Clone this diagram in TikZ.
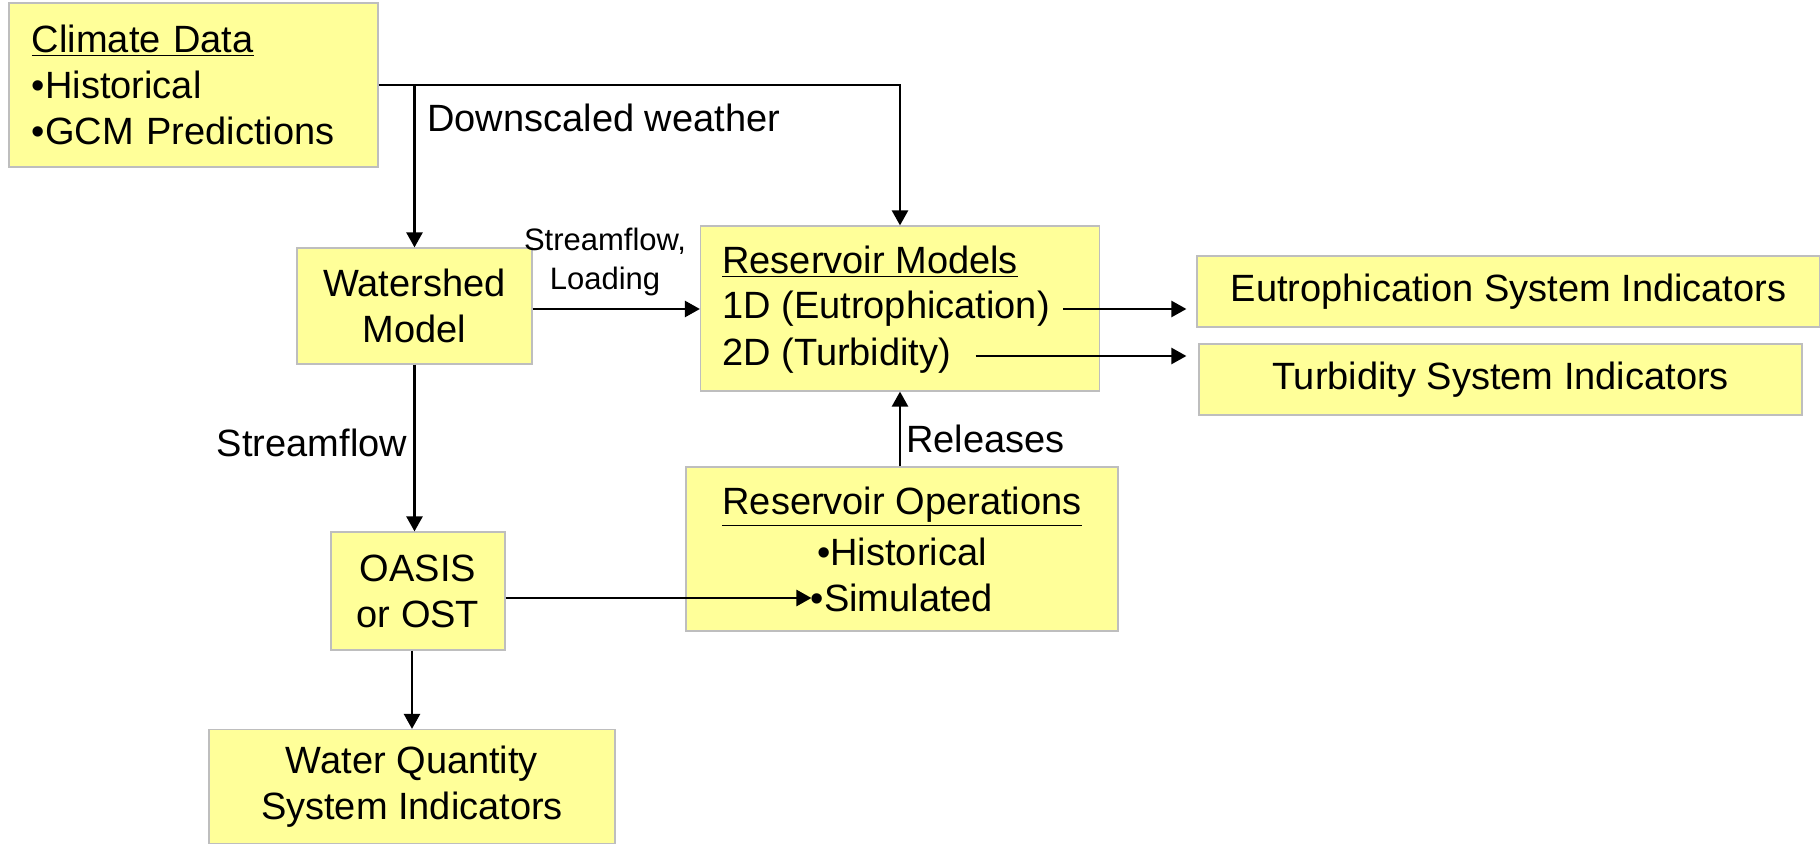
\documentclass[tikz,border=0pt]{standalone}
\usepackage{fontspec}
\setmainfont{Liberation Sans}
\usetikzlibrary{arrows.meta}
\definecolor{boxfill}{RGB}{255,255,153}
\definecolor{boxline}{RGB}{190,190,190}
\begin{document}
\begin{tikzpicture}[x=0.5pt,y=-0.5pt,
  txt/.style={inner sep=0pt, font=\fontsize{19}{23}\selectfont},
  box/.style={txt, draw=boxline, fill=boxfill, line width=0.6pt},
  small/.style={inner sep=0pt, font=\fontsize{15.5}{19.5}\selectfont, align=center},
  ln/.style={line width=1.25pt},
  arr/.style={ln, -{Triangle[length=7.5pt,width=8pt]}}]
\useasboundingbox (0,0) rectangle (1820,844);
% boxes
\node[box, inner xsep=11.5pt, text width=161.5pt, minimum height=82pt, align=left] (climate) at (193.5,85)
  {\underline{Climate Data}\\•Historical\\•GCM Predictions};
\node[box, minimum width=117.5pt, minimum height=58pt, align=center] (ws) at (414.5,306) {Watershed\\Model};
\node[box, minimum width=199.5pt, minimum height=82.5pt] (res) at (900,308.5) {};
\node[txt, anchor=west] (res0) at (722,262) {\underline{Reservoir Models}};
\node[txt, anchor=west] (res1) at (722,309) {1D (Eutrophication)};
\node[txt, anchor=west] (res2) at (722,356) {2D (Turbidity)};
\node[box, minimum width=311.5pt, minimum height=35.5pt] (eutro) at (1508.5,291.5) {Eutrophication System Indicators};
\node[box, minimum width=301.5pt, minimum height=35.5pt] (turb) at (1500.5,379.5) {Turbidity System Indicators};
\node[box, minimum width=87pt, minimum height=59pt, align=center] (oasis) at (418,591) {OASIS\\or OST};
\node[box, minimum width=216pt, minimum height=82pt] (ops) at (902,549) {};
\node[txt] (ops0) at (902,507) {\underline{Reservoir Operations}};
\node[txt] (ops1) at (902,552) {•Historical};
\node[txt] (ops2) at (902,598) {•Simulated};
\node[box, minimum width=203pt, minimum height=57pt, align=center] (wq) at (412,786.5) {Water Quantity\\System Indicators};
% labels
\node[txt, anchor=west] (lweather) at (427,118) {Downscaled weather};
\node[small] (lload) at (605,262) {Streamflow,\\Loading};
\node[txt] (lstream) at (312,443) {Streamflow};
\node[txt, anchor=west] (lrel) at (906,439) {Releases};
% connectors
\draw[arr] (climate.east) -- (res.north |- climate.east) -- (res.north);
\draw[arr] (ws.north |- climate.east) -- (ws.north);
\draw[arr] (ws.east |- res1) -- (res.west |- res1);
\draw[arr] ([xshift=6.5pt]res1.east) -- ([xshift=-5pt]eutro.west |- res1.east);
\draw[arr] ([xshift=12pt]res2.east) -- ([xshift=-6pt]turb.west |- res2.east);
\draw[arr] (ws.south) -- (ws.south |- oasis.north);
\draw[arr] (oasis.east |- ops2) -- ([xshift=0.5pt]ops2.west);
\draw[arr] (res.south |- ops.north) -- (res.south);
\draw[arr] (wq.north |- oasis.south) -- (wq.north);
\end{tikzpicture}
\end{document}
